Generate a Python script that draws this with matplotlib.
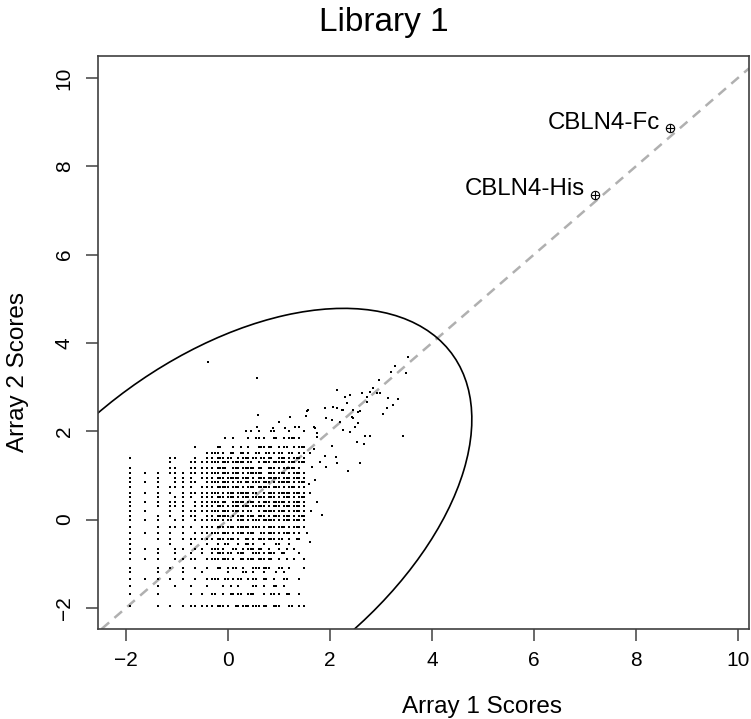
import matplotlib
matplotlib.use("Agg")
import matplotlib.pyplot as plt
from matplotlib.patches import Ellipse

# column positions (x) and row levels (y) of the dense block of scores
grid_x = [-1.92, -1.63, -1.37, -1.14, -1.04, -0.88, -0.73, -0.65, -0.51, -0.41, -0.31,
          -0.2, -0.1, 0.0, 0.1, 0.2, 0.3, 0.4, 0.5, 0.6, 0.7, 0.8, 0.9, 1.0, 1.1, 1.2, 1.3, 1.4, 1.5]
grid_y = [2.0, 1.85, 1.64, 1.5, 1.39, 1.3, 1.16, 1.05, 0.95, 0.84, 0.73, 0.61, 0.5, 0.4,
          0.3, 0.2, 0.09, -0.02, -0.18, -0.3, -0.43, -0.55, -0.66, -0.75, -0.89, -1.09,
          -1.2, -1.34, -1.5, -1.68, -1.95]
# one row per grid_y level, '#' = a spot at that column (low x | high x)
grid_rows = [
    "...........|........#..#..#..#",
    "...........|...#..#.##.#.####.",
    ".......#...|#..#..#.###.##.###",
    ".........##|##.#.##.#.###.#.##",
    "#..##..#.##|###.####.##.######",
    "...#..#####|#######.##########",
    "#..##.#####|##.######.#######.",
    "###########|#########.########",
    "#.#.###.###|##################",
    "###.####.##|#####.############",
    "#.#####.###|##################",
    "####.######|########.#########",
    "#.#.###.###|##################",
    "######.####|##.###############",
    "#.####.####|##################",
    "##.#.######|#######.##########",
    "#.##.###.##|##################",
    "###.##.####|###.##############",
    "#.#####.###|##################",
    "####.#.####|########.########.",
    "#.##.######|#####.#######.#.#.",
    "#..#..#..#.|#.#.#.##.#..#.#...",
    "###.##.##.#|##.#.####.#.#..#..",
    "#.#.#.#.#.#|###.##.#####.#..#.",
    "###.####.##|####.######.#..#.#",
    "#.##.#.#.#.|#.##.#.####.#.#..#",
    "#.#..#..#..|..#..#.#.#...#....",
    "####.#.#.##|#.###.##.#.#.#..#.",
    "#.#.#.#..#.|.#..#..#.#.#.#....",
    "#.#...#.#.#|.#.##.##.#.##.#.#.",
    "#.##.######|###.######.##.#.##",
]

# in-between columns of the same block (same grid_y rows)
grid2_x = [-0.25, -0.15, -0.05, 0.05, 0.15, 0.25, 0.35, 0.45, 0.55, 0.65, 0.75, 0.85,
           0.95, 1.05, 1.15, 1.25, 1.35, 1.45]
grid2_rows = [
    "......#....#......",
    "..#.....#...#..#..",
    ".#...#...#.#..#..#",
    "#..#.#..#.#..#.#..",
    ".#.#..#.##.#.#..#.",
    "#.#.##.#..#.##.#.#",
    ".##.#.##.#.#..##..",
    "#.#.#..###.#.#..#.",
    ".#.##.#..#.##.#.#.",
    "#.#..##.#.#..##..#",
    ".##.#..#.##.#..#..",
    "#..#.##.#..#.##.#.",
    ".#.#..#.##.#..#..#",
    "#.#.##.#..#.##..#.",
    ".#..#.#.##..#.#.#.",
    "#.#.#..#..##.#..#.",
    ".##..#.#.#..#.#..#",
    "#..#.#..#.##..#.#.",
    ".#.#.##.#..#.#..#.",
    "#.#..#.#.#.#..#...",
    ".#.#..#..#.#.#..#.",
    "..#...#.....#.....",
    "#...#..#.#....#...",
    ".#.#.#..#..#.#....",
    "#.#..#.#.#.#..#...",
    ".#..#...#.#..#....",
    "......#.....#.....",
    "#.#..#..#.#...#...",
    "...#....#...#.....",
    "#..#.#.#...#..#...",
    ".#..#.#.#.#.#..#..",
]

# scattered scores outside the dense block
extra_x = [-0.39, 0.57, 0.59, 0.57, 0.88, 1.12, 1.22, 1.55, 1.7, 1.4, 1.0, 0.45,
           1.31, 1.57, 1.53, 1.69, 1.75, 1.75, 1.9, 1.92, 1.92, 1.9, 2.04, 2.04, 2.06,
           2.12, 2.14, 2.14, 2.14, 2.2, 2.24, 2.25, 2.25, 2.29, 2.33, 2.35, 2.39, 2.39,
           2.43, 2.45, 2.45, 2.49, 2.49, 2.53, 2.55, 2.55, 2.59, 2.59, 2.63, 2.67,
           2.69, 2.73, 2.73, 2.78, 2.78, 2.84, 2.92, 2.96, 2.98, 3.04, 3.12, 3.14,
           3.2, 3.24, 3.27, 3.33, 3.43, 3.49, 3.53,
           1.6, 1.65, 1.7, 1.6, 1.75, 1.62, 1.8, 1.55, 1.6, 1.85, 1.68, 1.58]
extra_y = [3.57, 3.2, 2.36, 2.09, 2.07, 2.07, 2.32, 2.45, 2.07, 2.1, 2.2, 2.0,
           2.09, 2.48, 2.34, 2.1, 1.95, 1.86, 2.52, 2.3, 1.18, 1.45, 2.25, 1.66, 2.55,
           1.41, 2.93, 2.52, 1.27, 2.2, 2.48, 2.02, 2.48, 2.77, 2.64, 1.11, 2.82, 1.98,
           2.32, 2.48, 2.3, 2.1, 2.09, 1.75, 2.43, 2.18, 1.27, 2.45, 2.86, 1.7,
           1.89, 2.77, 2.66, 1.89, 2.89, 2.98, 2.86, 3.16, 2.86, 2.4, 2.52, 2.75,
           3.34, 2.59, 3.48, 2.73, 1.89, 3.32, 3.68,
           1.5, 1.2, 0.9, 0.6, 0.4, 0.2, 1.3, -0.3, -0.5, 0.1, 1.6, 0.8]

labels = ["CBLN4-Fc", "CBLN4-His"]
label_x = [8.67, 7.2]
label_y = [8.86, 7.36]

# ellipse: centre on the diagonal, semi-axes along / across it
ell_centre = -0.12
ell_major = 5.98
ell_minor = 3.51

pts_x, pts_y = [], []
for gx, rows in ((grid_x, grid_rows), (grid2_x, grid2_rows)):
    for yv, row in zip(grid_y, rows):
        for xv, ch in zip(gx, row.replace("|", "")):
            if ch == "#":
                pts_x.append(xv)
                pts_y.append(yv)
pts_x += extra_x
pts_y += extra_y

plt.rcParams['font.family'] = ['Liberation Sans', 'DejaVu Sans']

fig = plt.figure(figsize=(7.51, 7.19), dpi=100)
ax = fig.add_axes([98 / 751, 1 - 629 / 719, 651 / 751, 573 / 719])

ax.scatter(pts_x, pts_y, s=3.6, marker='s', color='black', linewidths=0, zorder=3)
ax.axline((0, 0), slope=1, color='#b0b0b0', lw=1.8, dashes=(4, 2.8), zorder=2)
ax.add_patch(Ellipse((ell_centre, ell_centre), 2 * ell_major, 2 * ell_minor, angle=45,
                     fill=False, ec='black', lw=1.2, zorder=2))

ax.plot(label_x, label_y, 'o', mfc='none', mec='black', ms=6, mew=0.8, zorder=4)
ax.plot(label_x, label_y, '+', color='black', ms=6, mew=0.8, zorder=4)
for lx, ly, lab in zip(label_x, label_y, labels):
    ax.annotate(lab, (lx, ly), xytext=(-7, 4), textcoords='offset points',
                ha='right', va='center', fontsize=17.3)

ax.set_xlim(-2.55, 10.22)
ax.set_ylim(-2.48, 10.5)
ax.set_xticks([-2, 0, 2, 4, 6, 8, 10])
ax.set_yticks([-2, 0, 2, 4, 6, 8, 10])
ax.tick_params(length=8.5, width=1.1, color='#404040', labelsize=15, pad=7)
ax.tick_params(axis='y', labelrotation=90, pad=9)
for lab in ax.get_yticklabels():
    lab.set_va('center')
for sp in ax.spines.values():
    sp.set_color('#404040')
    sp.set_linewidth(1.2)

fig.text(482 / 751, 1 - 707 / 719, "Array 1 Scores", fontsize=17.5, ha='center', va='center')
fig.text(18 / 751, 1 - 372 / 719, "Array 2 Scores", fontsize=17.5, ha='center', va='center',
         rotation=90)
fig.text(384 / 751, 1 - 22 / 719, "Library 1", fontsize=24, ha='center', va='center')

fig.savefig("out.png", dpi=100)
